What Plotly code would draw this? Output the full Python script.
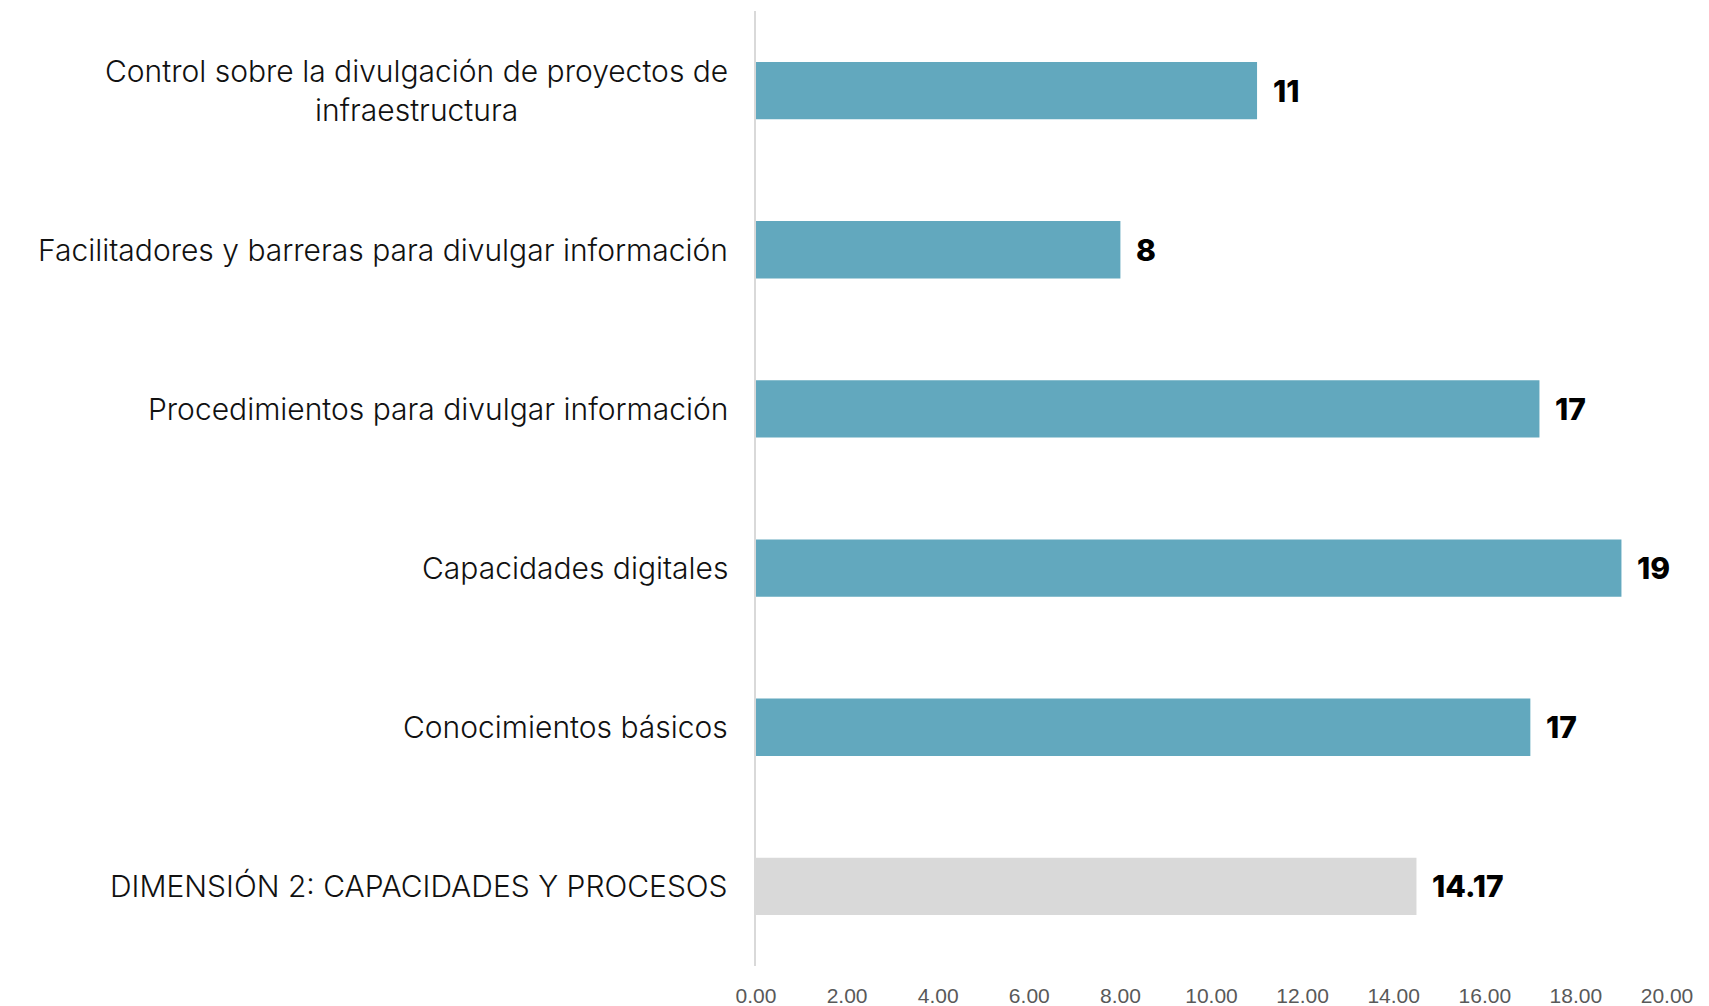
import plotly.graph_objects as go

categories = [
    "Control sobre la divulgación de proyectos de<br>infraestructura",
    "Facilitadores y barreras para divulgar información",
    "Procedimientos para divulgar información",
    "Capacidades digitales",
    "Conocimientos básicos",
    "DIMENSIÓN 2: CAPACIDADES Y PROCESOS",
]
values = [11, 8, 17.2, 19, 17, 14.5]
value_labels = ["11", "8", "17", "19", "17", "14.17"]
bar_colors = ["#62A8BE"] * 5 + ["#D9D9D9"]
tick_vals = [0, 2, 4, 6, 8, 10, 12, 14, 16, 18, 20]
tick_text = ["%.2f" % v for v in tick_vals]

fig = go.Figure()
fig.add_trace(go.Bar(
    x=values, y=categories, orientation="h",
    marker=dict(color=bar_colors, line=dict(width=0)),
    width=0.36, hoverinfo="skip",
))

annotations = []
for c in categories:
    annotations.append(dict(
        x=0, xref="paper", y=c, yref="y", text=c, showarrow=False,
        xanchor="right", yanchor="middle", align="center", xshift=-26,
        font=dict(family="Inter", size=30, weight=300, color="#111111"),
    ))
for c, v, lab in zip(categories, values, value_labels):
    annotations.append(dict(
        x=v, y=c, text=lab, showarrow=False,
        xanchor="left", yanchor="middle", xshift=14,
        font=dict(family="Inter", size=30, weight=800, color="#000000"),
    ))

# page has an 8px body margin, so the figure is shifted by 8px right/down
fig.update_layout(
    width=1701, height=998,
    margin=dict(l=748, r=42, t=3, b=40),
    paper_bgcolor="white", plot_bgcolor="white",
    showlegend=False,
    annotations=annotations,
    xaxis=dict(
        range=[0, 20], tickvals=tick_vals, ticktext=tick_text,
        showgrid=False, zeroline=False, showline=False, automargin=False,
        ticks="", ticklabelstandoff=15,
        tickfont=dict(family="Liberation Sans", size=21, color="#595959"),
    ),
    yaxis=dict(
        categoryorder="array", categoryarray=categories[::-1],
        showticklabels=False, showgrid=False, zeroline=False, automargin=False,
        showline=True, linecolor="#D9D9D9", linewidth=2, ticks="",
    ),
    bargap=0.64,
)

fig.write_html("out.html")
